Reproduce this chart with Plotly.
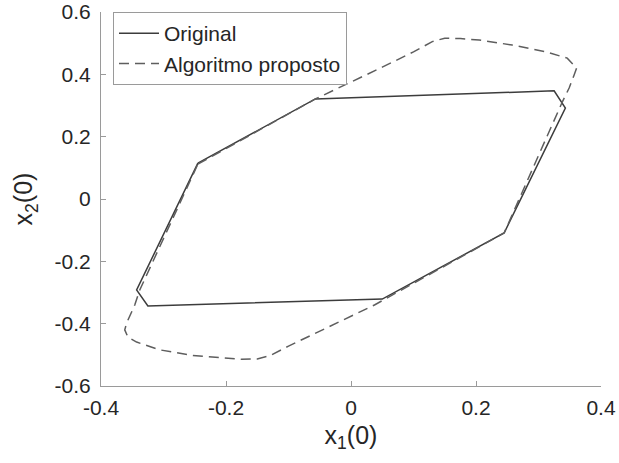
import plotly.graph_objects as go

# Original polygon (solid)
orig_x = [-0.245, -0.057, 0.325, 0.343, 0.245, 0.050, -0.325, -0.343, -0.245]
orig_y = [0.115, 0.321, 0.347, 0.292, -0.109, -0.321, -0.343, -0.292, 0.115]

# Proposed algorithm (dashed)
alg_x = [-0.245, -0.057, 0.050, 0.100, 0.130, 0.150, 0.175, 0.205, 0.258, 0.312, 0.346,
         0.361, 0.357, 0.349, 0.338, 0.245, 0.0375, -0.050, -0.100, -0.130, -0.150,
         -0.175, -0.205, -0.253, -0.306, -0.343, -0.357, -0.362, -0.359, -0.346, -0.338,
         -0.245]
alg_y = [0.112, 0.321, 0.423, 0.472, 0.505, 0.516, 0.515, 0.510, 0.494, 0.472, 0.452,
         0.420, 0.398, 0.356, 0.311, -0.109, -0.340, -0.423, -0.472, -0.503, -0.513,
         -0.514, -0.510, -0.502, -0.484, -0.459, -0.443, -0.420, -0.398, -0.340, -0.292,
         0.112]

x_ticks = [-0.4, -0.2, 0, 0.2, 0.4]
x_labels = ["-0.4", "-0.2", "0", "0.2", "0.4"]
y_ticks = [-0.6, -0.4, -0.2, 0, 0.2, 0.4, 0.6]
y_labels = ["-0.6", "-0.4", "-0.2", "0", "0.2", "0.4", "0.6"]

font_family = "Liberation Sans, Arial, sans-serif"

fig = go.Figure()
fig.add_trace(go.Scatter(x=orig_x, y=orig_y, mode="lines", name="Original",
                         line=dict(color="#3c3c3c", width=1.5)))
fig.add_trace(go.Scatter(x=alg_x, y=alg_y, mode="lines", name="Algoritmo proposto",
                         line=dict(color="#5e5e5e", width=1.5, dash="10px,6px")))

axis_common = dict(showgrid=False, zeroline=False, showline=True, linecolor="#9a9a9a",
                   linewidth=1, ticks="inside", ticklen=5, tickcolor="#9a9a9a",
                   tickfont=dict(family=font_family, size=21, color="#262626"),
                   mirror=False, automargin=False)

fig.update_layout(
    width=619, height=463,
    margin=dict(l=101, r=18, t=12, b=77),
    paper_bgcolor="white", plot_bgcolor="white",
    font=dict(family=font_family, color="#262626"),
    xaxis=dict(range=[-0.4, 0.4], tickvals=x_ticks, ticktext=x_labels,
               ticklabelstandoff=3,
               title=dict(text="x<sub>1</sub>(0)", font=dict(size=25), standoff=8),
               **axis_common),
    yaxis=dict(range=[-0.6, 0.6], tickvals=y_ticks, ticktext=y_labels,
               ticklabelstandoff=5,
               title=dict(text="x<sub>2</sub>(0)", font=dict(size=25), standoff=14),
               **axis_common),
    legend=dict(x=0.024, y=1.0, xanchor="left", yanchor="top",
                bordercolor="#9a9a9a", borderwidth=1, bgcolor="white",
                font=dict(family=font_family, size=21, color="#262626"),
                tracegroupgap=0, itemwidth=40),
    showlegend=True,
)

fig.write_html("out.html")
